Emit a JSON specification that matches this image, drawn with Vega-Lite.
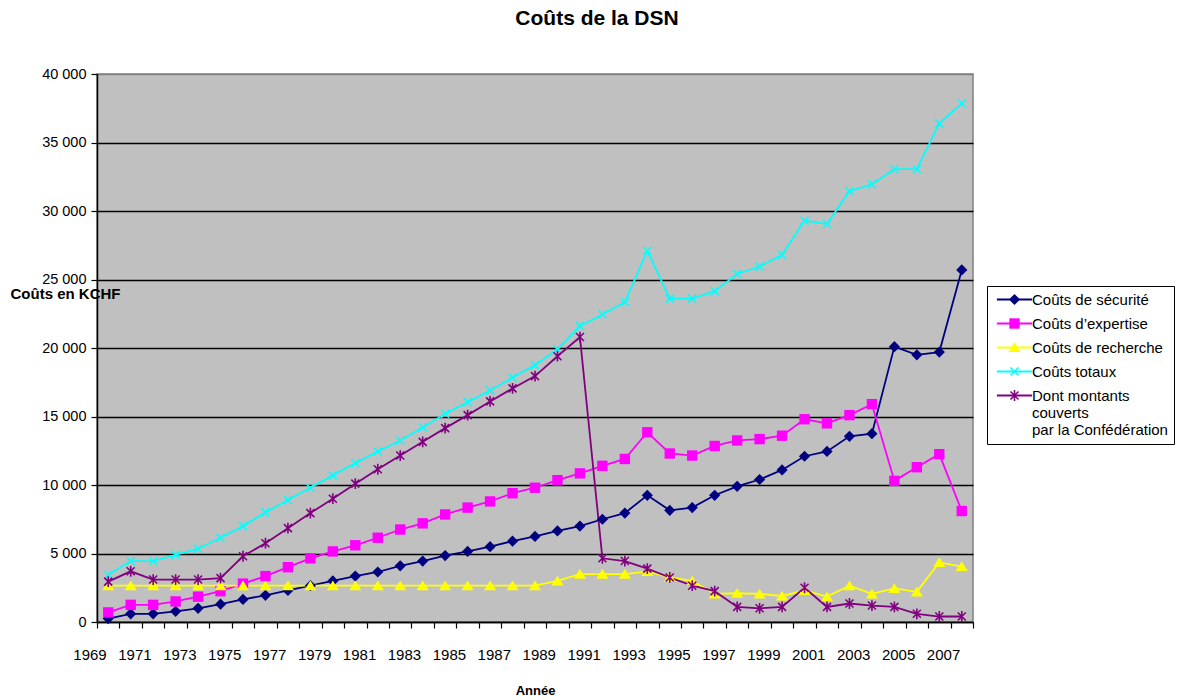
{
  "$schema": "https://vega.github.io/schema/vega-lite/v6.json",
  "width": 876,
  "height": 548,
  "autosize": {"type": "none"},
  "padding": {"left": 97, "top": 74, "right": 211, "bottom": 78},
  "background": "white",
  "title": {"text": "Coûts de la DSN", "font": "Liberation Sans", "fontSize": 21, "fontWeight": "bold", "color": "black", "anchor": "middle", "dx": 62, "offset": 37},
  "config": {
    "view": {"fill": "#C0C0C0", "stroke": "#808080", "strokeWidth": 1.5},
    "axis": {"labelFont": "Liberation Sans", "titleFont": "Liberation Sans", "labelColor": "black", "titleColor": "black", "domainColor": "black", "tickColor": "black", "domainWidth": 1.5, "tickWidth": 1.2}
  },
  "resolve": {"legend": {"color": "independent", "shape": "independent"}},
  "data": {"values": [
    {"year": 1970, "series": "Coûts de sécurité", "value": 250},
    {"year": 1971, "series": "Coûts de sécurité", "value": 600},
    {"year": 1972, "series": "Coûts de sécurité", "value": 600},
    {"year": 1973, "series": "Coûts de sécurité", "value": 780},
    {"year": 1974, "series": "Coûts de sécurité", "value": 1000},
    {"year": 1975, "series": "Coûts de sécurité", "value": 1300},
    {"year": 1976, "series": "Coûts de sécurité", "value": 1650},
    {"year": 1977, "series": "Coûts de sécurité", "value": 1950},
    {"year": 1978, "series": "Coûts de sécurité", "value": 2300},
    {"year": 1979, "series": "Coûts de sécurité", "value": 2650},
    {"year": 1980, "series": "Coûts de sécurité", "value": 3000},
    {"year": 1981, "series": "Coûts de sécurité", "value": 3350},
    {"year": 1982, "series": "Coûts de sécurité", "value": 3650},
    {"year": 1983, "series": "Coûts de sécurité", "value": 4100},
    {"year": 1984, "series": "Coûts de sécurité", "value": 4450},
    {"year": 1985, "series": "Coûts de sécurité", "value": 4850},
    {"year": 1986, "series": "Coûts de sécurité", "value": 5150},
    {"year": 1987, "series": "Coûts de sécurité", "value": 5500},
    {"year": 1988, "series": "Coûts de sécurité", "value": 5900},
    {"year": 1989, "series": "Coûts de sécurité", "value": 6250},
    {"year": 1990, "series": "Coûts de sécurité", "value": 6650},
    {"year": 1991, "series": "Coûts de sécurité", "value": 7000},
    {"year": 1992, "series": "Coûts de sécurité", "value": 7500},
    {"year": 1993, "series": "Coûts de sécurité", "value": 7950},
    {"year": 1994, "series": "Coûts de sécurité", "value": 9250},
    {"year": 1995, "series": "Coûts de sécurité", "value": 8150},
    {"year": 1996, "series": "Coûts de sécurité", "value": 8350},
    {"year": 1997, "series": "Coûts de sécurité", "value": 9250},
    {"year": 1998, "series": "Coûts de sécurité", "value": 9900},
    {"year": 1999, "series": "Coûts de sécurité", "value": 10400},
    {"year": 2000, "series": "Coûts de sécurité", "value": 11100},
    {"year": 2001, "series": "Coûts de sécurité", "value": 12100},
    {"year": 2002, "series": "Coûts de sécurité", "value": 12450},
    {"year": 2003, "series": "Coûts de sécurité", "value": 13550},
    {"year": 2004, "series": "Coûts de sécurité", "value": 13750},
    {"year": 2005, "series": "Coûts de sécurité", "value": 20100},
    {"year": 2006, "series": "Coûts de sécurité", "value": 19500},
    {"year": 2007, "series": "Coûts de sécurité", "value": 19700},
    {"year": 2008, "series": "Coûts de sécurité", "value": 25700},
    {"year": 1970, "series": "Coûts d’expertise", "value": 700},
    {"year": 1971, "series": "Coûts d’expertise", "value": 1250},
    {"year": 1972, "series": "Coûts d’expertise", "value": 1250},
    {"year": 1973, "series": "Coûts d’expertise", "value": 1500},
    {"year": 1974, "series": "Coûts d’expertise", "value": 1850},
    {"year": 1975, "series": "Coûts d’expertise", "value": 2250},
    {"year": 1976, "series": "Coûts d’expertise", "value": 2800},
    {"year": 1977, "series": "Coûts d’expertise", "value": 3350},
    {"year": 1978, "series": "Coûts d’expertise", "value": 4000},
    {"year": 1979, "series": "Coûts d’expertise", "value": 4650},
    {"year": 1980, "series": "Coûts d’expertise", "value": 5150},
    {"year": 1981, "series": "Coûts d’expertise", "value": 5600},
    {"year": 1982, "series": "Coûts d’expertise", "value": 6150},
    {"year": 1983, "series": "Coûts d’expertise", "value": 6750},
    {"year": 1984, "series": "Coûts d’expertise", "value": 7200},
    {"year": 1985, "series": "Coûts d’expertise", "value": 7850},
    {"year": 1986, "series": "Coûts d’expertise", "value": 8350},
    {"year": 1987, "series": "Coûts d’expertise", "value": 8800},
    {"year": 1988, "series": "Coûts d’expertise", "value": 9400},
    {"year": 1989, "series": "Coûts d’expertise", "value": 9800},
    {"year": 1990, "series": "Coûts d’expertise", "value": 10350},
    {"year": 1991, "series": "Coûts d’expertise", "value": 10850},
    {"year": 1992, "series": "Coûts d’expertise", "value": 11400},
    {"year": 1993, "series": "Coûts d’expertise", "value": 11900},
    {"year": 1994, "series": "Coûts d’expertise", "value": 13850},
    {"year": 1995, "series": "Coûts d’expertise", "value": 12300},
    {"year": 1996, "series": "Coûts d’expertise", "value": 12150},
    {"year": 1997, "series": "Coûts d’expertise", "value": 12850},
    {"year": 1998, "series": "Coûts d’expertise", "value": 13250},
    {"year": 1999, "series": "Coûts d’expertise", "value": 13350},
    {"year": 2000, "series": "Coûts d’expertise", "value": 13600},
    {"year": 2001, "series": "Coûts d’expertise", "value": 14800},
    {"year": 2002, "series": "Coûts d’expertise", "value": 14500},
    {"year": 2003, "series": "Coûts d’expertise", "value": 15100},
    {"year": 2004, "series": "Coûts d’expertise", "value": 15900},
    {"year": 2005, "series": "Coûts d’expertise", "value": 10300},
    {"year": 2006, "series": "Coûts d’expertise", "value": 11300},
    {"year": 2007, "series": "Coûts d’expertise", "value": 12250},
    {"year": 2008, "series": "Coûts d’expertise", "value": 8100},
    {"year": 1970, "series": "Coûts de recherche", "value": 2650},
    {"year": 1971, "series": "Coûts de recherche", "value": 2650},
    {"year": 1972, "series": "Coûts de recherche", "value": 2650},
    {"year": 1973, "series": "Coûts de recherche", "value": 2650},
    {"year": 1974, "series": "Coûts de recherche", "value": 2650},
    {"year": 1975, "series": "Coûts de recherche", "value": 2650},
    {"year": 1976, "series": "Coûts de recherche", "value": 2650},
    {"year": 1977, "series": "Coûts de recherche", "value": 2650},
    {"year": 1978, "series": "Coûts de recherche", "value": 2650},
    {"year": 1979, "series": "Coûts de recherche", "value": 2650},
    {"year": 1980, "series": "Coûts de recherche", "value": 2650},
    {"year": 1981, "series": "Coûts de recherche", "value": 2650},
    {"year": 1982, "series": "Coûts de recherche", "value": 2650},
    {"year": 1983, "series": "Coûts de recherche", "value": 2650},
    {"year": 1984, "series": "Coûts de recherche", "value": 2650},
    {"year": 1985, "series": "Coûts de recherche", "value": 2650},
    {"year": 1986, "series": "Coûts de recherche", "value": 2650},
    {"year": 1987, "series": "Coûts de recherche", "value": 2650},
    {"year": 1988, "series": "Coûts de recherche", "value": 2650},
    {"year": 1989, "series": "Coûts de recherche", "value": 2650},
    {"year": 1990, "series": "Coûts de recherche", "value": 3000},
    {"year": 1991, "series": "Coûts de recherche", "value": 3500},
    {"year": 1992, "series": "Coûts de recherche", "value": 3500},
    {"year": 1993, "series": "Coûts de recherche", "value": 3500},
    {"year": 1994, "series": "Coûts de recherche", "value": 3700},
    {"year": 1995, "series": "Coûts de recherche", "value": 3250},
    {"year": 1996, "series": "Coûts de recherche", "value": 3000},
    {"year": 1997, "series": "Coûts de recherche", "value": 2050},
    {"year": 1998, "series": "Coûts de recherche", "value": 2100},
    {"year": 1999, "series": "Coûts de recherche", "value": 2050},
    {"year": 2000, "series": "Coûts de recherche", "value": 1900},
    {"year": 2001, "series": "Coûts de recherche", "value": 2300},
    {"year": 2002, "series": "Coûts de recherche", "value": 1850},
    {"year": 2003, "series": "Coûts de recherche", "value": 2650},
    {"year": 2004, "series": "Coûts de recherche", "value": 2050},
    {"year": 2005, "series": "Coûts de recherche", "value": 2450},
    {"year": 2006, "series": "Coûts de recherche", "value": 2200},
    {"year": 2007, "series": "Coûts de recherche", "value": 4350},
    {"year": 2008, "series": "Coûts de recherche", "value": 4050},
    {"year": 1970, "series": "Coûts totaux", "value": 3450},
    {"year": 1971, "series": "Coûts totaux", "value": 4450},
    {"year": 1972, "series": "Coûts totaux", "value": 4450},
    {"year": 1973, "series": "Coûts totaux", "value": 4900},
    {"year": 1974, "series": "Coûts totaux", "value": 5350},
    {"year": 1975, "series": "Coûts totaux", "value": 6150},
    {"year": 1976, "series": "Coûts totaux", "value": 7000},
    {"year": 1977, "series": "Coûts totaux", "value": 8000},
    {"year": 1978, "series": "Coûts totaux", "value": 8900},
    {"year": 1979, "series": "Coûts totaux", "value": 9800},
    {"year": 1980, "series": "Coûts totaux", "value": 10700},
    {"year": 1981, "series": "Coûts totaux", "value": 11600},
    {"year": 1982, "series": "Coûts totaux", "value": 12450},
    {"year": 1983, "series": "Coûts totaux", "value": 13250},
    {"year": 1984, "series": "Coûts totaux", "value": 14200},
    {"year": 1985, "series": "Coûts totaux", "value": 15200},
    {"year": 1986, "series": "Coûts totaux", "value": 16050},
    {"year": 1987, "series": "Coûts totaux", "value": 16900},
    {"year": 1988, "series": "Coûts totaux", "value": 17850},
    {"year": 1989, "series": "Coûts totaux", "value": 18750},
    {"year": 1990, "series": "Coûts totaux", "value": 19900},
    {"year": 1991, "series": "Coûts totaux", "value": 21600},
    {"year": 1992, "series": "Coûts totaux", "value": 22450},
    {"year": 1993, "series": "Coûts totaux", "value": 23350},
    {"year": 1994, "series": "Coûts totaux", "value": 27100},
    {"year": 1995, "series": "Coûts totaux", "value": 23600},
    {"year": 1996, "series": "Coûts totaux", "value": 23600},
    {"year": 1997, "series": "Coûts totaux", "value": 24150},
    {"year": 1998, "series": "Coûts totaux", "value": 25400},
    {"year": 1999, "series": "Coûts totaux", "value": 25950},
    {"year": 2000, "series": "Coûts totaux", "value": 26800},
    {"year": 2001, "series": "Coûts totaux", "value": 29300},
    {"year": 2002, "series": "Coûts totaux", "value": 29050},
    {"year": 2003, "series": "Coûts totaux", "value": 31450},
    {"year": 2004, "series": "Coûts totaux", "value": 31950},
    {"year": 2005, "series": "Coûts totaux", "value": 33050},
    {"year": 2006, "series": "Coûts totaux", "value": 33050},
    {"year": 2007, "series": "Coûts totaux", "value": 36400},
    {"year": 2008, "series": "Coûts totaux", "value": 37850},
    {"year": 1970, "series": "Dont montants couverts par la Confédération", "value": 2950},
    {"year": 1971, "series": "Dont montants couverts par la Confédération", "value": 3700},
    {"year": 1972, "series": "Dont montants couverts par la Confédération", "value": 3100},
    {"year": 1973, "series": "Dont montants couverts par la Confédération", "value": 3100},
    {"year": 1974, "series": "Dont montants couverts par la Confédération", "value": 3100},
    {"year": 1975, "series": "Dont montants couverts par la Confédération", "value": 3200},
    {"year": 1976, "series": "Dont montants couverts par la Confédération", "value": 4800},
    {"year": 1977, "series": "Dont montants couverts par la Confédération", "value": 5750},
    {"year": 1978, "series": "Dont montants couverts par la Confédération", "value": 6850},
    {"year": 1979, "series": "Dont montants couverts par la Confédération", "value": 7950},
    {"year": 1980, "series": "Dont montants couverts par la Confédération", "value": 9000},
    {"year": 1981, "series": "Dont montants couverts par la Confédération", "value": 10100},
    {"year": 1982, "series": "Dont montants couverts par la Confédération", "value": 11150},
    {"year": 1983, "series": "Dont montants couverts par la Confédération", "value": 12150},
    {"year": 1984, "series": "Dont montants couverts par la Confédération", "value": 13150},
    {"year": 1985, "series": "Dont montants couverts par la Confédération", "value": 14150},
    {"year": 1986, "series": "Dont montants couverts par la Confédération", "value": 15100},
    {"year": 1987, "series": "Dont montants couverts par la Confédération", "value": 16100},
    {"year": 1988, "series": "Dont montants couverts par la Confédération", "value": 17050},
    {"year": 1989, "series": "Dont montants couverts par la Confédération", "value": 17950},
    {"year": 1990, "series": "Dont montants couverts par la Confédération", "value": 19400},
    {"year": 1991, "series": "Dont montants couverts par la Confédération", "value": 20800},
    {"year": 1992, "series": "Dont montants couverts par la Confédération", "value": 4650},
    {"year": 1993, "series": "Dont montants couverts par la Confédération", "value": 4450},
    {"year": 1994, "series": "Dont montants couverts par la Confédération", "value": 3900},
    {"year": 1995, "series": "Dont montants couverts par la Confédération", "value": 3250},
    {"year": 1996, "series": "Dont montants couverts par la Confédération", "value": 2650},
    {"year": 1997, "series": "Dont montants couverts par la Confédération", "value": 2250},
    {"year": 1998, "series": "Dont montants couverts par la Confédération", "value": 1100},
    {"year": 1999, "series": "Dont montants couverts par la Confédération", "value": 1000},
    {"year": 2000, "series": "Dont montants couverts par la Confédération", "value": 1100},
    {"year": 2001, "series": "Dont montants couverts par la Confédération", "value": 2500},
    {"year": 2002, "series": "Dont montants couverts par la Confédération", "value": 1100},
    {"year": 2003, "series": "Dont montants couverts par la Confédération", "value": 1350},
    {"year": 2004, "series": "Dont montants couverts par la Confédération", "value": 1200},
    {"year": 2005, "series": "Dont montants couverts par la Confédération", "value": 1100},
    {"year": 2006, "series": "Dont montants couverts par la Confédération", "value": 600},
    {"year": 2007, "series": "Dont montants couverts par la Confédération", "value": 400},
    {"year": 2008, "series": "Dont montants couverts par la Confédération", "value": 400}
  ]},
  "encoding": {
    "x": {"field": "year", "type": "quantitative",
      "scale": {"domain": [1969.5, 2008.5], "nice": false, "zero": false},
      "axis": {"title": "Année", "grid": false,
        "values": [1969.5, 1970.5, 1971.5, 1972.5, 1973.5, 1974.5, 1975.5, 1976.5, 1977.5, 1978.5, 1979.5, 1980.5, 1981.5, 1982.5, 1983.5, 1984.5, 1985.5, 1986.5, 1987.5, 1988.5, 1989.5, 1990.5, 1991.5, 1992.5, 1993.5, 1994.5, 1995.5, 1996.5, 1997.5, 1998.5, 1999.5, 2000.5, 2001.5, 2002.5, 2003.5, 2004.5, 2005.5, 2006.5, 2007.5, 2008.5],
        "labelExpr": "(datum.value - 1969.5) % 2 == 0 ? format(datum.value - 0.5, 'd') : ''",
        "labelOffset": -7.5, "labelOverlap": false, "labelFlush": false, "labelBound": false,
        "labelFontSize": 15, "labelPadding": 19, "tickSize": 6,
        "titleFontSize": 13, "titleFontWeight": "bold", "titleBaseline": "middle", "titleY": 68}},
    "y": {"field": "value", "type": "quantitative",
      "scale": {"domain": [0, 40000], "nice": false},
      "axis": {"title": "Coûts en KCHF",
        "values": [0, 5000, 10000, 15000, 20000, 25000, 30000, 35000, 40000],
        "labelExpr": "replace(format(datum.value, ',d'), ',', ' ')",
        "labelFontSize": 14.5, "labelPadding": 5, "tickSize": 6,
        "grid": true, "gridWidth": 1.5,
        "gridColor": {"condition": {"test": "datum.value == 40000", "value": "#808080"}, "value": "black"},
        "titleAngle": 0, "titleAlign": "left", "titleBaseline": "middle", "titleX": -87, "titleY": 219,
        "titleFontSize": 15, "titleFontWeight": "bold"}}
  },
  "layer": [
    {
      "mark": {"type": "line", "strokeWidth": 1.8},
      "encoding": {
        "color": {"field": "series", "type": "nominal",
          "scale": {"domain": ["Coûts de sécurité", "Coûts d’expertise", "Coûts de recherche", "Coûts totaux", "Dont montants couverts par la Confédération"],
                    "range": ["#000080", "#FF00FF", "#FFFF00", "#00FFFF", "#800080"]},
          "legend": {
            "orient": "none", "legendX": 890, "legendY": 212, "title": null,
            "symbolType": "M-4.4,0L4.4,0", "symbolSize": 64, "symbolStrokeWidth": 1.8, "symbolOffset": 14,
            "labelFont": "Liberation Sans", "labelFontSize": 15, "labelColor": "black", "labelOffset": 10, "labelLimit": 300,
            "labelExpr": "datum.label == 'Dont montants couverts par la Confédération' ? ['Dont montants', 'couverts', 'par la Confédération'] : datum.label",
            "strokeColor": "black", "fillColor": "white", "padding": 6, "rowPadding": 8
          }}
      }
    },
    {
      "mark": {"type": "point", "filled": true, "size": 64, "strokeWidth": 0, "opacity": 1},
      "encoding": {
        "color": {"field": "series", "type": "nominal",
          "scale": {"domain": ["Coûts de sécurité", "Coûts d’expertise", "Coûts de recherche", "Coûts totaux", "Dont montants couverts par la Confédération"],
                    "range": ["#000080", "#FF00FF", "#FFFF00", "#00FFFF", "#800080"]},
          "legend": {
            "orient": "none", "legendX": 890, "legendY": 212, "title": null,
            "symbolSize": 64, "symbolStrokeWidth": 0, "symbolOffset": 14,
            "labelFont": "Liberation Sans", "labelFontSize": 15, "labelColor": "transparent", "labelOffset": 10, "labelLimit": 300,
            "labelExpr": "datum.label == 'Dont montants couverts par la Confédération' ? ['Dont montants', 'couverts', 'par la Confédération'] : datum.label",
            "strokeColor": "transparent", "fillColor": "transparent", "padding": 6, "rowPadding": 8
          }},
        "shape": {"field": "series", "type": "nominal",
          "scale": {"domain": ["Coûts de sécurité", "Coûts d’expertise", "Coûts de recherche", "Coûts totaux", "Dont montants couverts par la Confédération"],
                    "range": [
                      "M0,-1.4L1.4,0L0,1.4L-1.4,0Z",
                      "M-1.3,-1.3H1.3V1.3H-1.3Z",
                      "M0,-1.3L1.5,1.15H-1.5Z",
                      "M-0.86,-1.14L1.14,0.86L0.86,1.14L-1.14,-0.86Z M-1.14,0.86L0.86,-1.14L1.14,-0.86L-0.86,1.14Z",
                      "M-0.86,-1.14L1.14,0.86L0.86,1.14L-1.14,-0.86Z M-1.14,0.86L0.86,-1.14L1.14,-0.86L-0.86,1.14Z M-0.2,-1.35L0.2,-1.35L0.2,1.35L-0.2,1.35Z"
                    ]},
          "legend": {
            "orient": "none", "legendX": 890, "legendY": 212, "title": null,
            "symbolSize": 64, "symbolStrokeWidth": 0, "symbolOffset": 14,
            "labelFont": "Liberation Sans", "labelFontSize": 15, "labelColor": "transparent", "labelOffset": 10, "labelLimit": 300,
            "labelExpr": "datum.label == 'Dont montants couverts par la Confédération' ? ['Dont montants', 'couverts', 'par la Confédération'] : datum.label",
            "strokeColor": "transparent", "fillColor": "transparent", "padding": 6, "rowPadding": 8
          }}
      }
    }
  ]
}
